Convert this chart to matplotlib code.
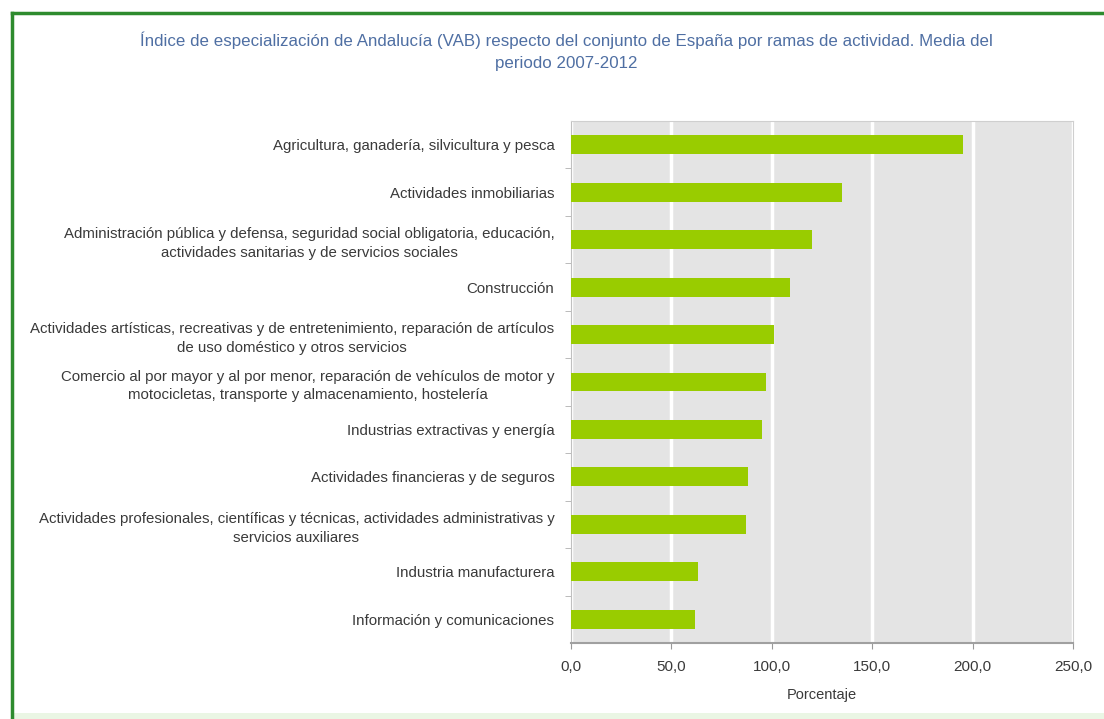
import matplotlib
matplotlib.use("Agg")
import matplotlib.pyplot as plt
from matplotlib.lines import Line2D
from matplotlib.patches import Rectangle
from matplotlib.ticker import FixedLocator, FuncFormatter

plt.rcParams["font.family"] = ["Liberation Sans", "DejaVu Sans"]

TITLE = ("Índice de especialización de Andalucía (VAB) respecto del conjunto de España "
         "por ramas de actividad. Media del\nperiodo 2007-2012")

RAMAS = [
    "Agricultura, ganadería, silvicultura y pesca",
    "Actividades inmobiliarias",
    "Administración pública y defensa, seguridad social obligatoria, educación,\n"
    "actividades sanitarias y de servicios sociales",
    "Construcción",
    "Actividades artísticas, recreativas y de entretenimiento, reparación de artículos\n"
    "de uso doméstico y otros servicios",
    "Comercio al por mayor y al por menor, reparación de vehículos de motor y\n"
    "motocicletas, transporte y almacenamiento, hostelería",
    "Industrias extractivas y energía",
    "Actividades financieras y de seguros",
    "Actividades profesionales, científicas y técnicas, actividades administrativas y\n"
    "servicios auxiliares",
    "Industria manufacturera",
    "Información y comunicaciones",
]
INDICE = [195.0, 135.0, 120.0, 109.0, 101.0, 97.0, 95.0, 88.0, 87.0, 63.0, 62.0]
X_TICKS = [0, 50, 100, 150, 200, 250]

BAR_COLOR = "#99cc00"
TEXT_COLOR = "#3a3a3a"
TITLE_COLOR = "#4f6fa3"


def main():
    fig = plt.figure(figsize=(11.04, 7.19), dpi=100)
    fig.patch.set_facecolor("white")

    # green frame (left + top, pale band at bottom)
    fig.add_artist(Line2D([12 / 1104, 12 / 1104], [0, 1 - 13 / 719],
                          transform=fig.transFigure, color="#2e8b2e", lw=2.5))
    fig.add_artist(Line2D([12 / 1104, 1], [1 - 13 / 719, 1 - 13 / 719],
                          transform=fig.transFigure, color="#2e8b2e", lw=2.5))
    fig.add_artist(Rectangle((14 / 1104, 0), 1, 6 / 719, transform=fig.transFigure,
                             facecolor="#eaf6e4", edgecolor="none"))

    ax = fig.add_axes([571 / 1104, 1 - 643 / 719, 502 / 1104, 522 / 719])
    ax.set_facecolor("#e4e4e4")

    ypos = list(range(len(RAMAS)))
    ax.barh(ypos, INDICE, height=0.4, color=BAR_COLOR, zorder=3)

    ax.set_xlim(0, 250)
    ax.set_ylim(len(RAMAS) - 0.5, -0.5)

    ax.set_xticks(X_TICKS)
    ax.xaxis.set_major_formatter(FuncFormatter(lambda v, p: f"{v:.1f}".replace(".", ",")))
    ax.set_yticks(ypos)
    ax.set_yticklabels(RAMAS, ha="right", multialignment="center")
    for t in ax.get_yticklabels():
        t.set_linespacing(1.45)
    ax.yaxis.set_minor_locator(FixedLocator([i + 0.5 for i in range(len(RAMAS) - 1)]))

    ax.tick_params(axis="y", which="major", length=0, pad=12, labelsize=10.8,
                   labelcolor=TEXT_COLOR)
    ax.tick_params(axis="y", which="minor", length=4, color="#b0b0b0")
    ax.tick_params(axis="x", length=4, color="#999999", pad=8, labelsize=11,
                   labelcolor=TEXT_COLOR)

    ax.grid(axis="x", color="white", lw=2.5, zorder=1)
    ax.set_axisbelow(True)

    for side in ("top", "right"):
        ax.spines[side].set_color("#cfcfcf")
    ax.spines["left"].set_color("#c0c0c0")
    ax.spines["bottom"].set_color("#a0a0a0")
    ax.spines["bottom"].set_linewidth(1.5)

    ax.set_xlabel("Porcentaje", fontsize=10.5, color=TEXT_COLOR, labelpad=10)

    fig.text(566 / 1104, 1 - 51 / 719, TITLE, ha="center", va="center",
             fontsize=12.2, color=TITLE_COLOR, linespacing=1.6)

    fig.savefig("out.png", dpi=100)


if __name__ == "__main__":
    main()
